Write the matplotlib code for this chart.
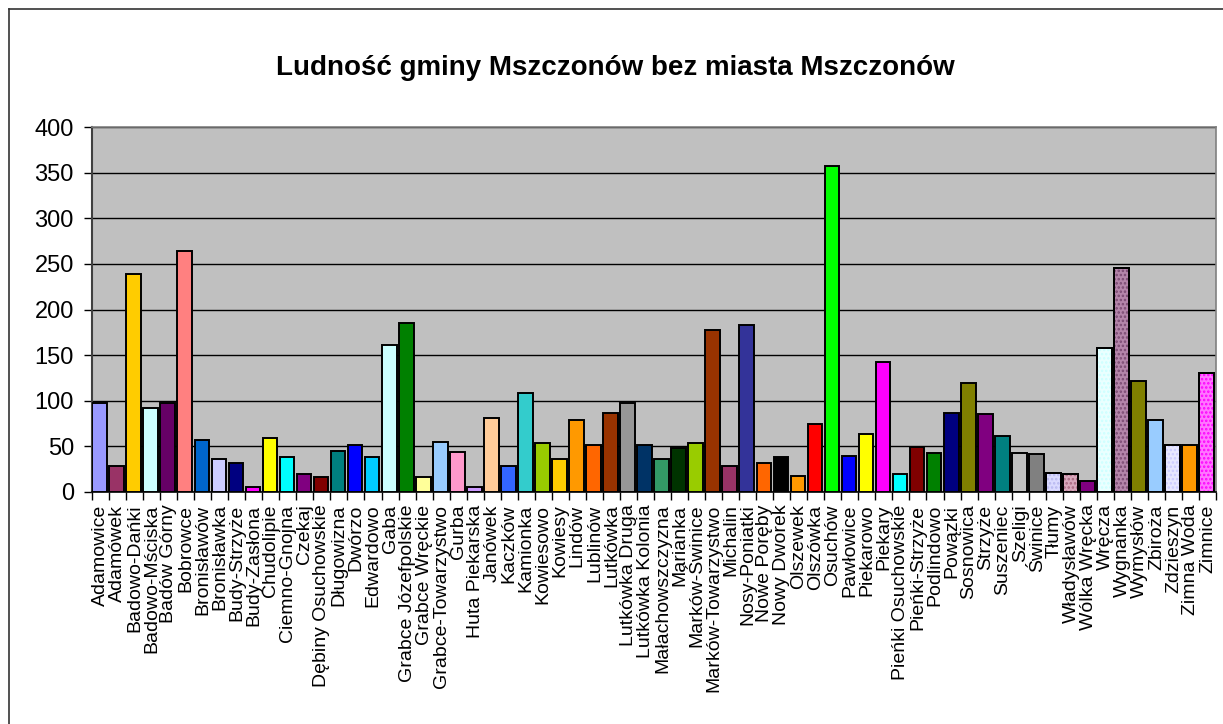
import matplotlib
matplotlib.use("Agg")
import matplotlib.pyplot as plt
from matplotlib.lines import Line2D

plt.rcParams['font.family'] = ['Liberation Sans', 'DejaVu Sans']

title = "Ludność gminy Mszczonów bez miasta Mszczonów"

categories = [
    "Adamowice", "Adamówek", "Badowo-Dańki", "Badowo-Mściska", "Badów Górny",
    "Bobrowce", "Bronisławów", "Bronisławka", "Budy-Strzyże", "Budy-Zasłona",
    "Chudolipie", "Ciemno-Gnojna", "Czekaj", "Dębiny Osuchowskie", "Długowizna",
    "Dwórzo", "Edwardowo", "Gaba", "Grabce Józefpolskie", "Grabce Wręckie",
    "Grabce-Towarzystwo", "Gurba", "Huta Piekarska", "Janówek", "Kaczków",
    "Kamionka", "Kowiesowo", "Kowiesy", "Lindów", "Lublinów",
    "Lutkówka", "Lutkówka Druga", "Lutkówka Kolonia", "Małachowszczyzna", "Marianka",
    "Marków-Świnice", "Marków-Towarzystwo", "Michalin", "Nosy-Poniatki", "Nowe Poręby",
    "Nowy Dworek", "Olszewek", "Olszówka", "Osuchów", "Pawłowice",
    "Piekarowo", "Piekary", "Pieńki Osuchowskie", "Pieńki-Strzyże", "Podlindowo",
    "Powązki", "Sosnowica", "Strzyże", "Suszeniec", "Szeligi",
    "Świnice", "Tłumy", "Władysławów", "Wólka Wręcka", "Wręcza",
    "Wygnanka", "Wymysłów", "Zbiroża", "Zdzieszyn", "Zimna Woda",
    "Zimnice",
]

values = [
    98, 29, 239, 92, 98,
    264, 57, 36, 32, 6,
    59, 38, 20, 16, 45,
    51, 38, 161, 185, 16,
    55, 44, 6, 81, 29,
    108, 54, 36, 79, 51,
    87, 98, 51, 36, 48,
    54, 178, 28, 183, 32,
    38, 18, 75, 357, 39,
    64, 142, 20, 49, 43,
    87, 120, 85, 61, 43,
    42, 21, 20, 12, 158,
    245, 122, 79, 51, 51,
    130,
]

colors = [
    "#9999FF", "#993366", "#FFCC00", "#CCFFFF", "#660066",
    "#FF8080", "#0066CC", "#CCCCFF", "#000080", "#FF00FF",
    "#FFFF00", "#00FFFF", "#800080", "#800000", "#008080",
    "#0000FF", "#00CCFF", "#CCFFFF", "#008000", "#FFFF99",
    "#99CCFF", "#FF99CC", "#CC99FF", "#FFCC99", "#3366FF",
    "#33CCCC", "#99CC00", "#FFCC00", "#FF9900", "#FF6600",
    "#993300", "#969696", "#003366", "#339966", "#003300",
    "#99CC00", "#993300", "#993366", "#333399", "#FF6600",
    "#000000", "#FF9900", "#FF0000", "#00FF00", "#0000FF",
    "#FFFF00", "#FF00FF", "#00FFFF", "#800000", "#008000",
    "#000080", "#808000", "#800080", "#008080", "#C0C0C0",
    "#808080", "#DADAFF", "#D8A8BC", "#800080", "#EAFFFF",
    "#B485AA", "#808000", "#99CCFF", "#E8E8FF", "#FF9900",
    "#FF77FF",
]

# dotted pattern overlays (category -> dot colour)
patterns = {
    "Tłumy": "#B8B8F0",
    "Władysławów": "#A86880",
    "Wręcza": "#CCFFFF",
    "Wygnanka": "#7A4A72",
    "Zdzieszyn": "#CCCCFF",
    "Zimnice": "#FF00FF",
}

yticks = [0, 50, 100, 150, 200, 250, 300, 350, 400]

W, H = 1223, 724
fig = plt.figure(figsize=(W / 100, H / 100), dpi=100)
fig.patch.set_facecolor("white")

# outer chart border (left & top visible)
fig.add_artist(Line2D([9 / W, 9 / W], [0, 1 - 9 / H], color="#333333", lw=1.2,
                      transform=fig.transFigure))
fig.add_artist(Line2D([9 / W, 1], [1 - 9 / H, 1 - 9 / H], color="#333333", lw=1.2,
                      transform=fig.transFigure))

left, right, top, bottom = 92, 1216, 127, 492
ax = fig.add_axes([left / W, 1 - bottom / H, (right - left) / W, (bottom - top) / H])
ax.set_facecolor("#C0C0C0")

n = len(categories)
xs = list(range(n))
bar_w = 0.86
lefts = [x - 0.5 + 0.02 for x in xs]
ax.bar(lefts, values, width=bar_w, align="edge", color=colors,
       edgecolor="black", linewidth=1.4, zorder=3)

plt.rcParams['hatch.linewidth'] = 1.2
for i, name in enumerate(categories):
    if name in patterns:
        ax.bar(lefts[i], values[i], width=bar_w, align="edge", facecolor="none",
               edgecolor=patterns[name], linewidth=0, hatch="....", zorder=3.5)
        ax.bar(lefts[i], values[i], width=bar_w, align="edge", facecolor="none",
               edgecolor="black", linewidth=1.4, zorder=4)

ax.set_xlim(-0.5, n - 0.5)
ax.set_ylim(0, 400)
ax.set_yticks(yticks)
ax.set_yticklabels([str(v) for v in yticks], fontsize=17)
ax.yaxis.grid(True, color="black", linewidth=1.0, zorder=1)
ax.set_axisbelow(True)

ax.set_xticks(xs)
ax.set_xticklabels(categories, rotation=90, fontsize=14, ha="center", va="top")
ax.tick_params(axis="x", length=0, pad=9)
ax.set_xticks([x - 0.5 for x in xs] + [n - 0.5], minor=True)
ax.tick_params(axis="x", which="minor", length=6, width=1, color="black")
ax.tick_params(axis="y", length=6, width=1, color="black", pad=7)

for s in ["top", "right"]:
    ax.spines[s].set_color("#808080")
    ax.spines[s].set_linewidth(1.2)
ax.spines["left"].set_color("#404040")
ax.spines["left"].set_linewidth(1.5)
ax.spines["bottom"].set_color("black")
ax.spines["bottom"].set_linewidth(1.2)

fig.text(615 / W, 1 - 68 / H, title, ha="center", va="center",
         fontsize=20, fontweight="bold")

fig.savefig("out.png", dpi=100)
